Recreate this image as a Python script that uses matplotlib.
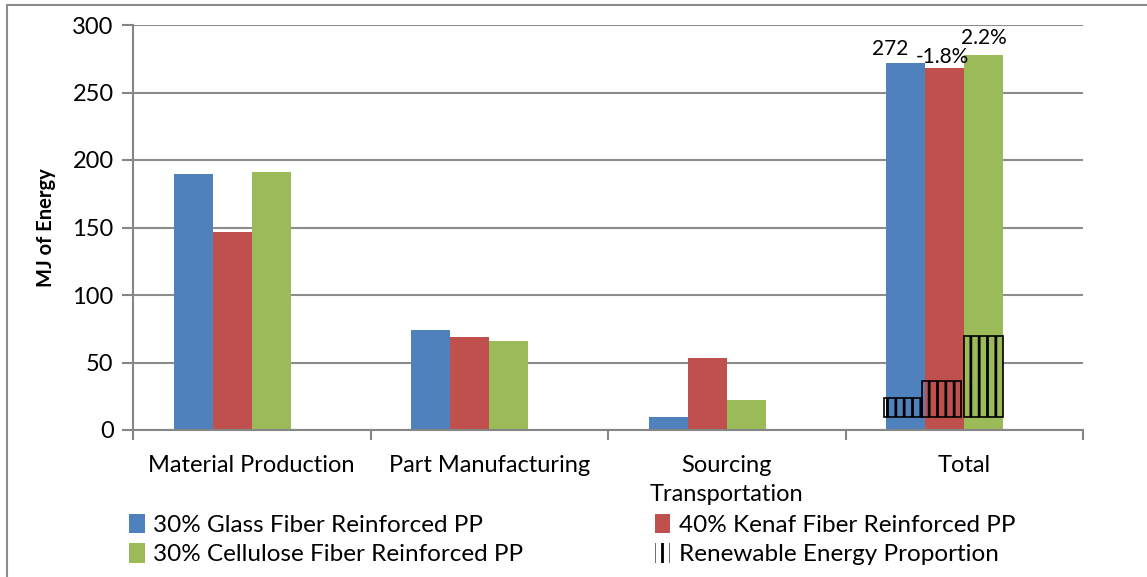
import matplotlib.pyplot as plt
import numpy as np
from matplotlib.patches import Rectangle, Patch

categories = ['Material Production', 'Part Manufacturing', 'Sourcing\nTransportation', 'Total']
glass = [189.5, 74, 10, 272]
kenaf = [147, 69, 53, 268]
cellulose = [191, 66, 22, 278]
renew_base = 10
renewable = [14, 26, 60]   # height of hatched box above base, Total group only
labels_total = ['272', '-1.8%', '2.2%']
series_names = ['30% Glass Fiber Reinforced PP', '40% Kenaf Fiber Reinforced PP',
                '30% Cellulose Fiber Reinforced PP', 'Renewable Energy Proportion']
colors = ['#4f81bd', '#c0504d', '#9bbb59']

plt.rcParams['font.family'] = ['Lato', 'DejaVu Sans']
plt.rcParams['hatch.linewidth'] = 2.0

fig = plt.figure(figsize=(11.47, 5.77), dpi=100)
ax = fig.add_axes([133/1147, 1-430/577, 950/1147, 405/577])

x = np.arange(len(categories))
w = 0.164
offsets = [-1.5*w, -0.5*w, 0.5*w]
series = [glass, kenaf, cellulose]
for s, off, c in zip(series, offsets, colors):
    ax.bar(x + off, s, w, color=c, zorder=2)

# renewable hatched boxes on Total group
ti = len(categories) - 1
shift = [-0.012, -0.012, 0.0]
for r, off, s in zip(renewable, offsets, shift):
    ax.bar(ti + off + s, r, w, bottom=renew_base, facecolor='none', edgecolor='black',
           hatch='||', linewidth=1.2, zorder=3)

# labels above Total
for s, off, lab, dy, dx in zip(series, offsets, labels_total, [3, 1, 5], [-0.065, -0.01, 0]):
    ax.text(ti + off + dx, s[ti] + dy, lab, ha='center', va='bottom', fontsize=15)

ax.set_xlim(-0.5, len(categories) - 0.5)
ax.set_ylim(0, 300)
ax.set_yticks(range(0, 301, 50))
ax.set_xticks(x)
ax.set_xticklabels(categories, fontsize=17, linespacing=1.45)
ax.set_xticks(np.arange(-0.5, len(categories)), minor=True)
ax.tick_params(axis='x', which='major', length=0, pad=18)
ax.tick_params(axis='x', which='minor', length=7, width=1.5, color='#868686', direction='out')
ax.tick_params(axis='y', labelsize=17, length=8, width=1.5, color='#868686', pad=6)
ax.set_ylabel('MJ of Energy', fontsize=14.5, fontweight='bold', labelpad=12)

ax.grid(axis='y', color='#8c8c8c', linewidth=1.5, zorder=0)
ax.set_axisbelow(True)
for side in ['top', 'right']:
    ax.spines[side].set_visible(False)
for side in ['left', 'bottom']:
    ax.spines[side].set_color('#868686')
    ax.spines[side].set_linewidth(1.5)

handles = [Patch(facecolor=c) for c in colors]
handles.append(Patch(facecolor='white', edgecolor='black', linewidth=0, hatch='||'))
order = [0, 2, 1, 3]
leg = fig.legend([handles[i] for i in order], [series_names[i] for i in order],
                 ncol=2, loc='upper left', bbox_to_anchor=(107/1147, 1-492/577),
                 frameon=False, fontsize=17.5, handlelength=0.65, handleheight=0.85,
                 handletextpad=0.35, columnspacing=5.4, labelspacing=0.3)

# outer border
fig.patches.append(Rectangle((7/1147, -0.1), 1.2, 1 - 4.5/577 + 0.1, transform=fig.transFigure,
                             fill=False, edgecolor='#8c8c8c', linewidth=1.5))

fig.savefig('out.png', dpi=100)
